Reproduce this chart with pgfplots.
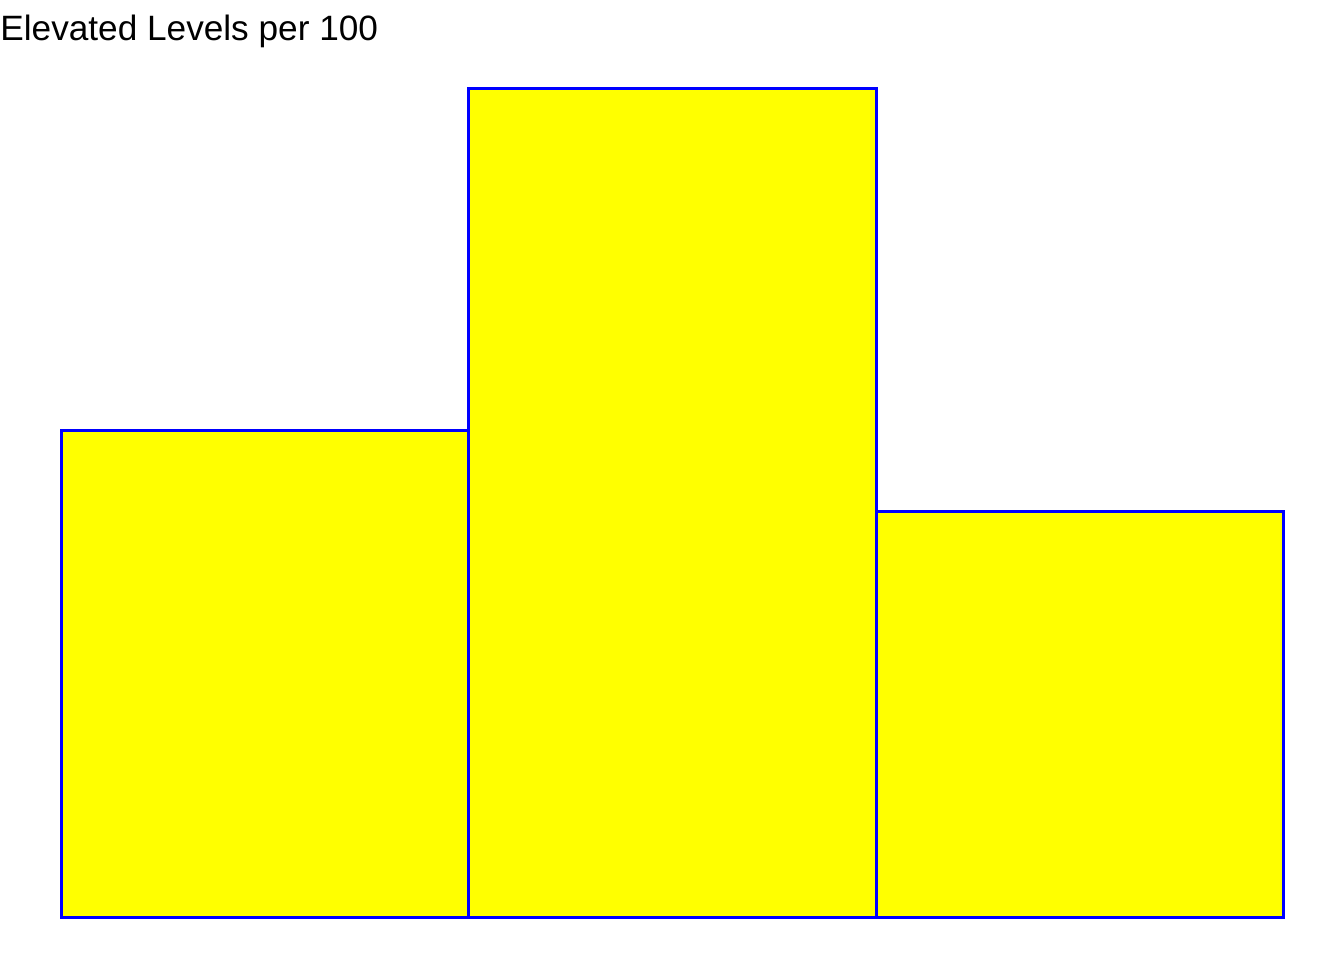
\documentclass[border=0pt]{standalone}
\usepackage{pgfplots}
\pgfplotsset{compat=1.18}
\usepackage{fontspec}
\setmainfont{Liberation Sans}
\begin{document}
\begin{tikzpicture}
\path[use as bounding box] (0,0) rectangle (672pt,480pt);
\begin{axis}[
  at={(30.75pt,21.25pt)}, anchor=south west,
  scale only axis, width=611pt, height=414.5pt,
  hide axis, clip=false,
  xmin=-0.5, xmax=2.5, ymin=0, ymax=829,
  ybar, bar width=1,
]
\addplot[fill={rgb,255:red,255;green,255;blue,0}, draw=blue, line width=1.4pt]
  coordinates {(0,487) (1,829) (2,406)};
\end{axis}
\node[anchor=base west, inner sep=0pt, font=\fontsize{17.6pt}{20pt}\selectfont] at (0,459.5pt) {Elevated Levels per 100};
\end{tikzpicture}
\end{document}
